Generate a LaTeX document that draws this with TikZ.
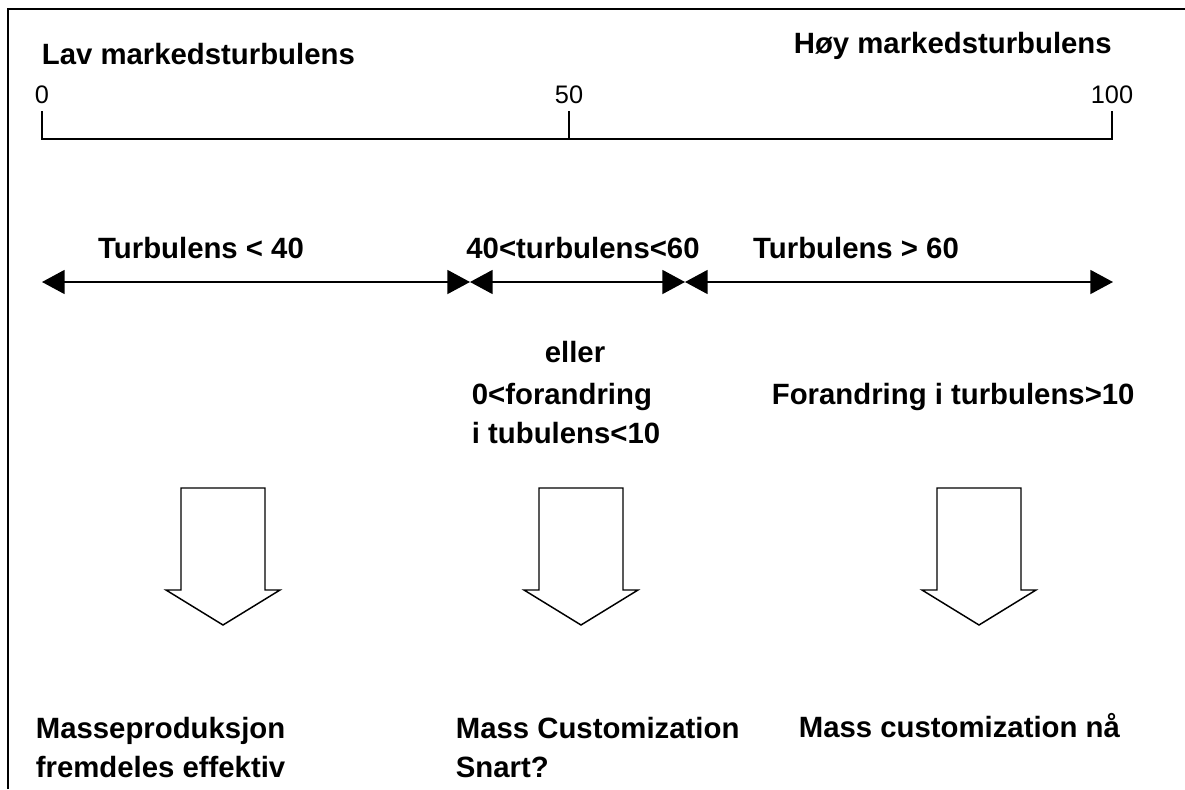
\documentclass[tikz,border=0pt]{standalone}
\usepackage{fontspec}
\setmainfont{Liberation Sans}
\usetikzlibrary{arrows.meta}

\begin{document}
\begin{tikzpicture}[x=0.75pt,y=-0.75pt,line width=1.3pt,
    lbl/.style={inner sep=0pt,font=\fontsize{22}{29.5}\selectfont\bfseries},
    num/.style={inner sep=0pt,anchor=base,font=\fontsize{19}{22}\selectfont},
    span/.style={{Triangle[length=17pt,width=18pt]}-{Triangle[length=17pt,width=18pt]}}]
    \useasboundingbox (0,0) rectangle (1185,789);
    \draw (8,789) -- (8,9) -- (1185,9);

    % scale
    \node[lbl,anchor=north west] (low) at (41,42) {Lav markedsturbulens};
    \node[lbl,anchor=north west] (high) at (793,31) {Høy markedsturbulens};
    \coordinate (t0) at (42,139);
    \coordinate (t50) at (569,139);
    \coordinate (t100) at (1112,139);
    \draw (t0) ++(0,-28) -- (t0) -- (t100) -- ++(0,-28);
    \draw (t50) -- ++(0,-28);
    \node[num] (n0) at (42,103) {0};
    \node[num] (n50) at (569,103) {50};
    \node[num] (n100) at (1112,103) {100};

    % ranges
    \coordinate (r0) at (42,282);
    \coordinate (r40) at (470,282);
    \coordinate (r60) at (685,282);
    \coordinate (r100) at (1113,282);
    \draw[span] (r0) -- (r40);
    \draw[span] (r40) -- (r60);
    \draw[span] (r60) -- (r100);
    \node[lbl,anchor=north] (lt40) at (201,236) {Turbulens < 40};
    \node[lbl,anchor=north] (mid) at (583,236) {40<turbulens<60};
    \node[lbl,anchor=north] (gt60) at (856,236) {Turbulens > 60};
    \node[lbl,anchor=north] (or) at (575,340) {eller};
    \node[lbl,anchor=north west,align=left] (chg) at (471,382) {0<forandring\\i tubulens<10};
    \node[lbl,anchor=north west] (chgbig) at (771,382) {Forandring i turbulens>10};

    % block arrows
    \foreach \cx in {223,581,979}
        \draw[line width=1.1pt] (\cx-42,488) -- (\cx+42,488) -- (\cx+42,590) -- (\cx+57,590)
            -- (\cx,625) -- (\cx-57,590) -- (\cx-42,590) -- cycle;

    \node[lbl,anchor=north west,align=left] (mp) at (35,716) {Masseproduksjon\\fremdeles effektiv};
    \node[lbl,anchor=north west,align=left] (mcs) at (455,716) {Mass Customization\\Snart?};
    \node[lbl,anchor=north west] (mcn) at (798,712) {Mass customization nå};
\end{tikzpicture}
\end{document}
